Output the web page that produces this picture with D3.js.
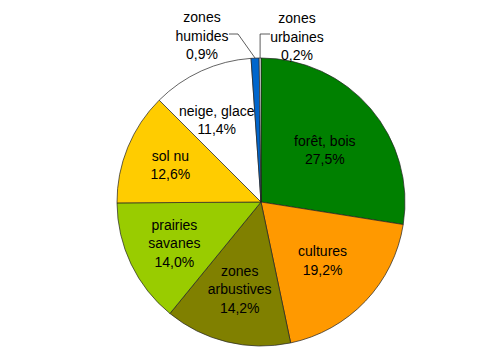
<!DOCTYPE html>
<html><head><meta charset="utf-8">
<script src="https://cdn.jsdelivr.net/npm/d3@7/dist/d3.min.js"></script>
<style>body{margin:0;background:#fff}svg{display:block}</style>
</head><body><svg id="c" width="490" height="358"></svg>
<script>
const categories = ["forêt, bois","cultures","zones arbustives","prairies savanes","sol nu","neige, glace","zones humides","zones urbaines"];
const labelLines = [["forêt, bois"],["cultures"],["zones","arbustives"],["prairies","savanes"],["sol nu"],["neige, glace"],["zones","humides"],["zones","urbaines"]];
const values = [27.5,19.2,14.2,14.0,12.6,11.4,0.9,0.2];
const valueLabels = ["27,5%","19,2%","14,2%","14,0%","12,6%","11,4%","0,9%","0,2%"];
const colors = ["#008000","#FF9900","#808000","#99CC00","#FFCC00","#FFFFFF","#0066CC","#FFFFFF"];

const svg = d3.select("#c");
const cx = 261, cy = 202, R = 144;
const g = svg.append("g").attr("transform", `translate(${cx},${cy})`);
const pie = d3.pie().sort(null).value(d => d);
const arcs = pie(values);
const arc = d3.arc().innerRadius(0).outerRadius(R);

g.selectAll("path").data(arcs).enter().append("path")
  .attr("d", arc).attr("fill", (d,i)=>colors[i])
  .attr("stroke", "#222").attr("stroke-width", 0.7);

const font = "'Liberation Sans', Arial, sans-serif";
const lh = 18.5;
// inside label radial distance (layout)
const labelR = [80, 85, 90, 96, 98, 90, null, null];
const labelDX = [3, 0, 0, 0, 0, -7, 0, 0];

arcs.forEach((d,i) => {
  if (labelR[i] == null) return;
  const a = (d.startAngle + d.endAngle) / 2;
  const x = Math.sin(a) * labelR[i] + labelDX[i];
  const y = -Math.cos(a) * labelR[i];
  const lines = labelLines[i].concat([valueLabels[i]]);
  const y0 = y - (lines.length - 1) * lh / 2;
  lines.forEach((t, k) => {
    g.append("text").attr("x", x).attr("y", y0 + k * lh + 5)
      .attr("text-anchor", "middle").attr("font-family", font)
      .attr("font-size", 14).attr("fill", "#000").text(t);
  });
});

// outside labels with leader lines
const outside = [
  {i: 6, tx: 202, base: 22, elbow: [238, 34], end: [229, 34]},
  {i: 7, tx: 297, base: 23, elbow: [260, 34], end: [270, 34]}
];
outside.forEach(o => {
  const d = arcs[o.i];
  const a = (d.startAngle + d.endAngle) / 2;
  const px = cx + Math.sin(a) * R, py = cy - Math.cos(a) * R;
  const ex = o.i === 7 ? px : o.elbow[0];
  svg.append("polyline")
    .attr("points", `${px},${py} ${ex},${o.elbow[1]} ${o.end[0]},${o.end[1]}`)
    .attr("fill", "none").attr("stroke", "#333").attr("stroke-width", 0.8);
  const lines = labelLines[o.i].concat([valueLabels[o.i]]);
  lines.forEach((t, k) => {
    svg.append("text").attr("x", o.tx).attr("y", o.base + k * lh)
      .attr("text-anchor", "middle").attr("font-family", font)
      .attr("font-size", 14).attr("fill", "#000").text(t);
  });
});
</script></body></html>
